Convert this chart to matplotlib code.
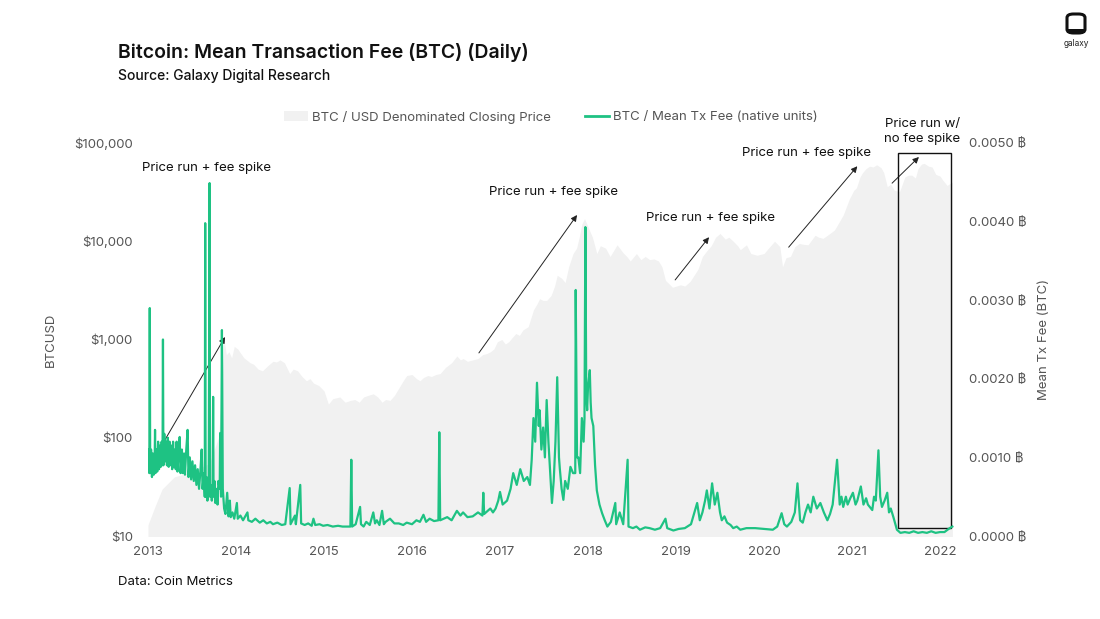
import matplotlib
matplotlib.use('Agg')
import matplotlib.pyplot as plt
from matplotlib.patches import Patch, Rectangle, FancyBboxPatch
from matplotlib.lines import Line2D
from matplotlib.ticker import FixedLocator, NullLocator

plt.rcParams['font.family'] = ['Inter', 'DejaVu Sans']

# BTC / USD closing price (decimal year, USD)
price_years = [
    2013.00, 2013.08, 2013.16, 2013.30, 2013.50, 2013.70, 2013.80, 2013.84, 2013.86,
    2013.89, 2013.92, 2013.95, 2013.98, 2014.02, 2014.05, 2014.09, 2014.12, 2014.16,
    2014.20, 2014.25, 2014.30, 2014.36, 2014.42, 2014.46, 2014.50, 2014.55, 2014.61,
    2014.65, 2014.70, 2014.75, 2014.80, 2014.84, 2014.88, 2014.94, 2015.00, 2015.05,
    2015.10, 2015.18, 2015.24, 2015.30, 2015.35, 2015.40, 2015.45, 2015.50, 2015.56,
    2015.61, 2015.66, 2015.70, 2015.75, 2015.80, 2015.85, 2015.90, 2015.94, 2016.00,
    2016.05, 2016.09, 2016.13, 2016.18, 2016.22, 2016.27, 2016.32, 2016.38, 2016.45,
    2016.51, 2016.55, 2016.58, 2016.63, 2016.69, 2016.75, 2016.80, 2016.85, 2016.89,
    2016.93, 2016.97, 2017.02, 2017.06, 2017.10, 2017.14, 2017.18, 2017.22, 2017.26,
    2017.32, 2017.38, 2017.42, 2017.45, 2017.49, 2017.53, 2017.58, 2017.62, 2017.65,
    2017.70, 2017.74, 2017.78, 2017.83, 2017.87, 2017.90, 2017.93, 2017.96, 2018.00,
    2018.05, 2018.10, 2018.14, 2018.20, 2018.25, 2018.29, 2018.33, 2018.40, 2018.44,
    2018.48, 2018.55, 2018.60, 2018.65, 2018.70, 2018.75, 2018.80, 2018.84, 2018.88,
    2018.96, 2019.05, 2019.10, 2019.16, 2019.25, 2019.30, 2019.35, 2019.40, 2019.45,
    2019.50, 2019.56, 2019.60, 2019.65, 2019.70, 2019.73, 2019.80, 2019.85, 2019.92,
    2020.00, 2020.05, 2020.12, 2020.18, 2020.21, 2020.25, 2020.30, 2020.35, 2020.40,
    2020.45, 2020.50, 2020.58, 2020.62, 2020.67, 2020.72, 2020.80, 2020.85, 2020.90,
    2020.97, 2021.02, 2021.05, 2021.09, 2021.12, 2021.16, 2021.20, 2021.24, 2021.28,
    2021.33, 2021.36, 2021.40, 2021.44, 2021.48, 2021.54, 2021.60, 2021.64, 2021.68,
    2021.72, 2021.75, 2021.79, 2021.82, 2021.87, 2021.91, 2021.95, 2022.00, 2022.03,
    2022.08, 2022.14,
]
price_usd = [
    13, 20, 30, 40, 45, 55, 100, 300, 1050,
    700, 750, 650, 850, 800, 730, 650, 620, 580,
    560, 500, 480, 540, 600, 590, 620, 580, 450,
    500, 480, 420, 380, 400, 360, 340, 300, 220,
    250, 260, 230, 240, 245, 230, 260, 270, 280,
    260, 230, 245, 240, 270, 320, 380, 430, 440,
    400, 380, 410, 430, 420, 440, 450, 520, 580,
    680, 620, 640, 600, 620, 640, 700, 720, 750,
    800, 950, 1000, 900, 950, 1050, 1150, 1100, 1250,
    1350, 2000, 2300, 2600, 2500, 2500, 2800, 3500, 4500,
    4200, 3800, 5500, 7500, 8500, 11000, 15000, 17000, 14000,
    11000, 7500, 9000, 8500, 7000, 8000, 9200, 7600, 7000,
    6300, 7500, 6500, 7000, 6500, 6600, 6300, 5500, 4000,
    3400, 3600, 3500, 3900, 5200, 7000, 8000, 9000, 11000,
    12000, 10500, 11000, 10000, 9000, 8200, 9200, 7500, 7200,
    7500, 8500, 10000, 8800, 5500, 6800, 7000, 8800, 9500,
    9300, 9200, 11500, 11000, 10700, 11500, 13000, 15500, 18500,
    27000, 33000, 35000, 45000, 50000, 55000, 58000, 57000, 60000,
    56000, 50000, 36000, 38000, 33000, 32000, 45000, 47000, 47000,
    44000, 55000, 61000, 62000, 58000, 57000, 48000, 46000, 42000,
    37000, 40000,
]

# Mean transaction fee (decimal year, BTC)
fee_years = [
    2013.00, 2013.01, 2013.015, 2013.02, 2013.025, 2013.035, 2013.045, 2013.055, 2013.065,
    2013.075, 2013.08, 2013.085, 2013.095, 2013.105, 2013.115, 2013.125, 2013.135, 2013.145,
    2013.155, 2013.165, 2013.17, 2013.175, 2013.185, 2013.195, 2013.205, 2013.215, 2013.225,
    2013.235, 2013.245, 2013.255, 2013.265, 2013.275, 2013.285, 2013.295, 2013.305, 2013.315,
    2013.325, 2013.335, 2013.35, 2013.36, 2013.37, 2013.385, 2013.395, 2013.41, 2013.42,
    2013.435, 2013.45, 2013.46, 2013.475, 2013.49, 2013.505, 2013.52, 2013.535, 2013.55,
    2013.565, 2013.58, 2013.595, 2013.61, 2013.62, 2013.635, 2013.645, 2013.65, 2013.655,
    2013.665, 2013.675, 2013.69, 2013.70, 2013.705, 2013.715, 2013.725, 2013.735, 2013.74,
    2013.745, 2013.755, 2013.765, 2013.78, 2013.79, 2013.80, 2013.815, 2013.82, 2013.83,
    2013.84, 2013.85, 2013.865, 2013.88, 2013.90, 2013.915, 2013.93, 2013.94, 2013.96,
    2013.98, 2014.01, 2014.02, 2014.05, 2014.08, 2014.13, 2014.14, 2014.18, 2014.22,
    2014.27, 2014.31, 2014.35, 2014.39, 2014.42, 2014.47, 2014.52, 2014.56, 2014.61,
    2014.62, 2014.67, 2014.68, 2014.73, 2014.74, 2014.78, 2014.82, 2014.86, 2014.88,
    2014.90, 2014.95, 2014.99, 2015.04, 2015.10, 2015.16, 2015.21, 2015.26, 2015.30,
    2015.31, 2015.32, 2015.36, 2015.41, 2015.42, 2015.45, 2015.48, 2015.52, 2015.56,
    2015.58, 2015.60, 2015.63, 2015.66, 2015.68, 2015.70, 2015.75, 2015.80, 2015.85,
    2015.90, 2015.94, 2016.00, 2016.05, 2016.09, 2016.13, 2016.16, 2016.20, 2016.25,
    2016.30, 2016.31, 2016.32, 2016.36, 2016.40, 2016.45, 2016.51, 2016.55, 2016.58,
    2016.63, 2016.69, 2016.75, 2016.80, 2016.81, 2016.82, 2016.86, 2016.89, 2016.92,
    2016.95, 2016.98, 2017.00, 2017.03, 2017.08, 2017.12, 2017.15, 2017.19, 2017.23,
    2017.27, 2017.31, 2017.34, 2017.36, 2017.38, 2017.40, 2017.42, 2017.44, 2017.45,
    2017.47, 2017.49, 2017.51, 2017.53, 2017.55, 2017.57, 2017.59, 2017.61, 2017.63,
    2017.65, 2017.67, 2017.68, 2017.70, 2017.72, 2017.74, 2017.77, 2017.80, 2017.83,
    2017.855, 2017.86, 2017.875, 2017.89, 2017.91, 2017.93, 2017.95, 2017.96, 2017.97,
    2017.98, 2017.99, 2018.00, 2018.02, 2018.03, 2018.04, 2018.06, 2018.08, 2018.10,
    2018.13, 2018.16, 2018.19, 2018.22, 2018.26, 2018.31, 2018.32, 2018.36, 2018.40,
    2018.45, 2018.46, 2018.51, 2018.55, 2018.59, 2018.65, 2018.70, 2018.76, 2018.82,
    2018.88, 2018.90, 2018.97, 2019.03, 2019.10, 2019.17, 2019.24, 2019.27, 2019.30,
    2019.33, 2019.35, 2019.38, 2019.41, 2019.44, 2019.47, 2019.50, 2019.52, 2019.55,
    2019.58, 2019.62, 2019.65, 2019.69, 2019.73, 2019.80, 2019.90, 2020.00, 2020.10,
    2020.15, 2020.20, 2020.23, 2020.26, 2020.31, 2020.35, 2020.38, 2020.41, 2020.44,
    2020.47, 2020.50, 2020.53, 2020.56, 2020.60, 2020.64, 2020.68, 2020.72, 2020.75,
    2020.78, 2020.83, 2020.86, 2020.88, 2020.90, 2020.93, 2020.95, 2020.98, 2021.01,
    2021.04, 2021.06, 2021.10, 2021.13, 2021.16, 2021.18, 2021.23, 2021.25, 2021.27,
    2021.30, 2021.32, 2021.34, 2021.37, 2021.40, 2021.42, 2021.44, 2021.47, 2021.51,
    2021.55, 2021.60, 2021.65, 2021.70, 2021.75, 2021.80, 2021.85, 2021.90, 2021.95,
    2022.00, 2022.05, 2022.11, 2022.14,
]
fee_btc = [
    0.00085, 0.0011, 0.0008, 0.0029, 0.0008, 0.0011, 0.00075, 0.00105, 0.00078,
    0.0009, 0.00135, 0.0008, 0.0011, 0.00082, 0.0012, 0.00085, 0.00115, 0.00088,
    0.0012, 0.0009, 0.0025, 0.0009, 0.0013, 0.00095, 0.0012, 0.0009, 0.00125,
    0.00088, 0.0012, 0.0009, 0.00115, 0.00085, 0.0012, 0.00088, 0.0011, 0.00085,
    0.0012, 0.00082, 0.0011, 0.00126, 0.0008, 0.0011, 0.0008, 0.00105, 0.00078,
    0.0011, 0.00135, 0.00075, 0.001, 0.00072, 0.00095, 0.0007, 0.0009, 0.00065,
    0.00085, 0.0006, 0.00082, 0.0011, 0.0006, 0.0008, 0.0005, 0.00398, 0.0005,
    0.00075, 0.00045, 0.0007, 0.00449, 0.0005, 0.00065, 0.00045, 0.0006, 0.00177,
    0.0005, 0.0007, 0.00042, 0.0006, 0.0004, 0.0007, 0.0006, 0.00131, 0.0005,
    0.00262, 0.0006, 0.00035, 0.00028, 0.00055, 0.00025, 0.00045, 0.00024, 0.0003,
    0.00022, 0.00042, 0.00022, 0.00026, 0.0002, 0.0003, 0.0002, 0.00018, 0.00022,
    0.00017, 0.0002, 0.00016, 0.00018, 0.00015, 0.00017, 0.00014, 0.00015, 0.00061,
    0.00015, 0.00026, 0.00015, 0.00065, 0.00016, 0.00014, 0.00016, 0.00013, 0.00022,
    0.00014, 0.00015, 0.00013, 0.00014, 0.00012, 0.00013, 0.00012, 0.00012, 0.00012,
    0.00097, 0.00012, 0.00015, 0.00037, 0.00015, 0.00012, 0.00018, 0.00014, 0.0003,
    0.00016, 0.0002, 0.00014, 0.00032, 0.00015, 0.00018, 0.00022, 0.00016, 0.00016,
    0.00014, 0.00017, 0.00015, 0.0002, 0.00018, 0.00027, 0.00018, 0.00022, 0.00019,
    0.0002, 0.00132, 0.0002, 0.00022, 0.00024, 0.0002, 0.00032, 0.00026, 0.0003,
    0.00024, 0.00025, 0.0003, 0.00026, 0.00055, 0.00028, 0.00032, 0.00035, 0.0003,
    0.00035, 0.00045, 0.00056, 0.0004, 0.00045, 0.0006, 0.0008, 0.00065, 0.00085,
    0.0007, 0.00075, 0.00065, 0.00097, 0.0015, 0.0012, 0.00195, 0.0014, 0.0016,
    0.0011, 0.00138, 0.001, 0.00173, 0.0012, 0.0008, 0.00042, 0.0007, 0.0012,
    0.00202, 0.001, 0.00085, 0.0006, 0.00046, 0.0007, 0.0006, 0.00088, 0.0008,
    0.0008, 0.00313, 0.001, 0.001, 0.0008, 0.0015, 0.0012, 0.0015, 0.00393,
    0.0018, 0.0016, 0.0019, 0.00211, 0.0017, 0.0015, 0.0014, 0.0009, 0.00058,
    0.0004, 0.00029, 0.0002, 0.00012, 0.00018, 0.00042, 0.00015, 0.0003, 0.00015,
    0.00097, 0.00012, 0.0001, 0.00012, 0.00008, 0.00011, 0.0001, 0.00008, 0.0001,
    0.00022, 0.0001, 0.00007, 0.00009, 0.0001, 0.00015, 0.00042, 0.0002, 0.0003,
    0.00045, 0.00058, 0.00035, 0.00067, 0.0004, 0.00055, 0.0003, 0.0002, 0.00025,
    0.00017, 0.00014, 0.0001, 0.00012, 0.00008, 0.0001, 0.0001, 0.00009, 0.00008,
    0.00012, 0.00029, 0.00015, 0.00012, 0.00018, 0.0003, 0.00067, 0.0002, 0.00017,
    0.0003, 0.0004, 0.0003, 0.0005, 0.00035, 0.00042, 0.0003, 0.0002, 0.00028,
    0.0004, 0.00097, 0.0004, 0.0005, 0.00037, 0.0005, 0.0004, 0.00048, 0.00055,
    0.0004, 0.00045, 0.00063, 0.0004, 0.00048, 0.0004, 0.00033, 0.0005, 0.00045,
    0.00109, 0.0005, 0.00037, 0.00045, 0.00055, 0.0003, 0.00035, 0.00024, 0.00008,
    0.00004, 0.00005, 0.00004, 0.00006, 0.00004, 0.00005, 0.00004, 0.00006, 0.00004,
    0.00005, 0.00005, 0.0001, 0.00012,
]

year_ticks = list(range(2013, 2023))
price_ticks = [10, 100, 1000, 10000, 100000]
price_labels = ['$10', '$100', '$1,000', '$10,000', '$100,000']
fee_ticks = [0.0, 0.001, 0.002, 0.003, 0.004, 0.005]
fee_labels = ['0.0000 ฿', '0.0010 ฿', '0.0020 ฿', '0.0030 ฿', '0.0040 ฿', '0.0050 ฿']

# annotations: (text, text position, arrow tail, arrow head) in (year, price)
notes = [
    ('Price run + fee spike', (2013.67, 55600), (2013.125, 75), (2013.875, 1060)),
    ('Price run + fee spike', (2017.61, 31800), (2016.76, 730), (2017.875, 18500)),
    ('Price run + fee spike', (2019.39, 17300), (2018.99, 4040), (2019.375, 11000)),
    ('Price run + fee spike', (2020.48, 79000), (2020.28, 8700), (2021.06, 58000)),
    ('Price run w/\nno fee spike', (2021.80, 130000), (2021.455, 39000), (2021.76, 72000)),
]

GREEN = '#1ec283'
GREY_FILL = '#f1f1f1'
TICK_COL = '#555555'

fig = plt.figure(figsize=(11, 6.19), dpi=100)
ax = fig.add_axes([148 / 1100, 1 - 536 / 619, (955 - 148) / 1100, (536 - 143) / 619])
ax2 = ax.twinx()

ax.fill_between(price_years, price_usd, 1, color=GREY_FILL, lw=0)
ax.set_yscale('log')
ax.set_ylim(10, 100000)
ax.set_xlim(2013, 2022.17)

ax2.plot(fee_years, fee_btc, color=GREEN, lw=1.6, solid_joinstyle='round')
ax2.set_ylim(0, 0.005)

# box around the 2021 run
ax2.add_patch(Rectangle((2021.52, 0.0001), 2022.125 - 2021.52, 0.00477,
                        fill=False, edgecolor='#111111', lw=1.0))

for a in (ax, ax2):
    for s in a.spines.values():
        s.set_visible(False)
    a.tick_params(length=0, colors=TICK_COL, labelsize=9.5)

ax.xaxis.set_major_locator(FixedLocator(year_ticks))
ax.set_xticklabels([str(y) for y in year_ticks])
ax.tick_params(axis='x', pad=7)
ax.yaxis.set_minor_locator(NullLocator())
ax.set_yticks(price_ticks)
ax.set_yticklabels(price_labels)
ax.tick_params(axis='y', pad=11)
ax2.set_yticks(fee_ticks)
ax2.set_yticklabels(fee_labels)
ax2.tick_params(axis='y', pad=10)

ax.set_ylabel('BTCUSD', color=TICK_COL, fontsize=9.5, labelpad=12)
ax2.set_ylabel('Mean Tx Fee (BTC)', color=TICK_COL, fontsize=9.5, labelpad=8)

for text, tpos, tail, head in notes:
    ax.annotate('', xy=head, xytext=tail,
                arrowprops=dict(arrowstyle='-|>', color='#222222', lw=0.7,
                                mutation_scale=9, shrinkA=0, shrinkB=0))
    ax.text(tpos[0], tpos[1], text, ha='center', va='center', fontsize=9.5,
            color='#111111', clip_on=False, linespacing=1.35)

handles = [Patch(facecolor=GREY_FILL, edgecolor='none'), Line2D([], [], color=GREEN, lw=2)]
fig.legend(handles, ['BTC / USD Denominated Closing Price', 'BTC / Mean Tx Fee (native units)'],
           loc='center', bbox_to_anchor=(0.501, 1 - 117 / 619), ncol=2, frameon=False,
           fontsize=9.5, labelcolor=TICK_COL, handlelength=1.8, handletextpad=0.3,
           columnspacing=2.6)

fig.text(118 / 1100, 1 - 53 / 619, 'Bitcoin: Mean Transaction Fee (BTC) (Daily)',
         fontsize=14, fontweight='semibold', color='#111111', va='center')
fig.text(118 / 1100, 1 - 76 / 619, 'Source: Galaxy Digital Research',
         fontsize=10, fontweight='medium', color='#111111', va='center')
fig.text(118 / 1100, 1 - 582 / 619, 'Data: Coin Metrics', fontsize=9.5, color='#111111',
         va='center')

# galaxy logo
fig.patches.append(FancyBboxPatch((1067 / 1100, 1 - 33 / 619), 18 / 1100, 19 / 619,
                                  boxstyle='round,pad=0,rounding_size=0.006',
                                  transform=fig.transFigure, facecolor='white',
                                  edgecolor='#111111', lw=2.2))
fig.patches.append(Rectangle((1067 / 1100, 1 - 33 / 619), 18 / 1100, 4 / 619,
                             transform=fig.transFigure, facecolor='#111111', lw=0))
fig.text(1076 / 1100, 1 - 43 / 619, 'galaxy', fontsize=6, ha='center', va='center',
         color='#222222')

fig.savefig('out.png', dpi=100, facecolor='white')
